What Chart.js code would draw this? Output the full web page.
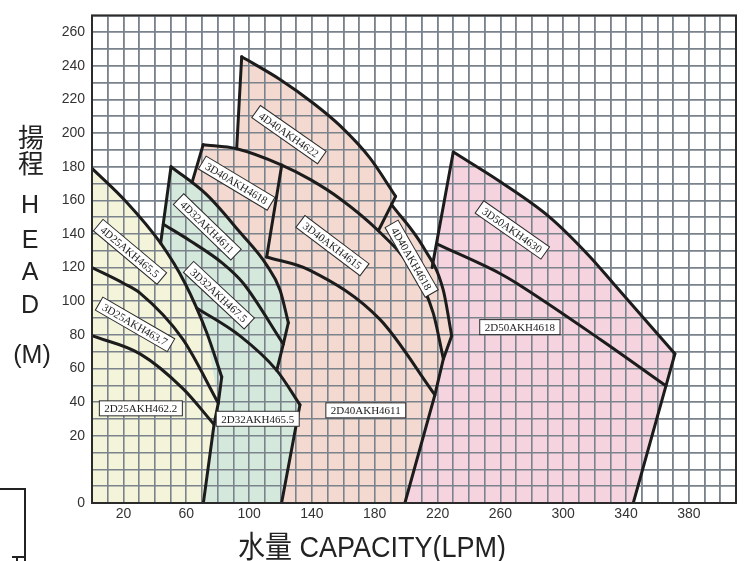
<!DOCTYPE html>
<html><head><meta charset="utf-8">
<script src="https://cdn.jsdelivr.net/npm/chart.js@4.4.1/dist/chart.umd.min.js"></script>
<style>html,body{margin:0;padding:0;background:#fff;}#wrap{position:relative;width:744px;height:561px;}</style>
</head><body><div id="wrap"><canvas id="c" width="744" height="561"></canvas></div>
<script>
// ---------- axis definition ----------
const X_MIN = 0, X_MAX = 410, X_GRID_STEP = 10;
const Y_BREAK = 20, Y_MAX = 270;            // below 20 m the axis is stretched x2
const xTickLabels = [20, 60, 100, 140, 180, 220, 260, 300, 340, 380];
const yTickLabels = [0, 20, 40, 60, 80, 100, 120, 140, 160, 180, 200, 220, 240, 260];
const yGridBelowBreak = [0, 5, 10, 15];

// ---------- performance curves [LPM, m] ----------
const c4D25 = [[0,179],[21.6,159.3],[43.7,134.5],[59.2,110.7],[73,81.4],[82.6,55]];
const c3D25 = [[0,120],[20,110.7],[30.6,104.8],[57.9,77.3],[80.4,39.4]];
const c2D25 = [[0,79.5],[30.6,68.7],[57.9,48],[77.7,26.7]];
const c4D32 = [[50.3,180],[73,163.4],[94.2,141],[111.2,121.5],[119.7,106.7],[125,87.2]];
const c3D32 = [[45.4,145.8],[62.4,136],[83.4,122.4],[96.3,110.7],[121.8,74.5]];
const c2D32 = [[66.6,96],[94.2,79.4],[117.6,58.9],[132.4,38.4]];
const c4D40_22 = [[95.3,245.4],[119.7,231.9],[140.7,217.9],[157.9,204.4],[177,185.1],[193.3,162.4]];
const c3D40 = [[70.8,193.1],[92.1,190.7],[120.8,181],[138.8,172.5],[157.9,161],[182.3,141.9],[204.3,118.3],[217.2,93.1],[223.7,65.7]];
const c4D40_18 = [[190.7,157.5],[210.9,132.2],[223.6,106.7],[229,79.4]];
const c2D40 = [[111.2,126.3],[138.8,118.4],[183.3,89.2],[218.3,44.3]];
const c3D50 = [[230,188.7],[259.7,171.2],[291.5,149.9],[317,126.5],[331.8,110.7],[371.1,68.7]];
const c2D50 = [[219.4,134.1],[259.7,116.5],[270.3,110.7],[323.4,77.4],[365.4,49.7]];

const last = a => a[a.length - 1];
// ---------- operating-range boundaries ----------
const bYellowRight = [last(c4D25), last(c3D25), last(c2D25), [70.9, 0]];
const bGreenLeft   = [c4D32[0], c4D25[2]];
const bGreenRight  = [last(c4D32), last(c3D32), c2D32[2]];
const b2D32Right   = [last(c2D32), [120.7, 0]];
const b3D40Left    = [c3D40[0], [63.8, 171]];
const b4622Left    = [c4D40_22[0], c3D40[1]];
const b4622Right   = [last(c4D40_22), c4D40_18[0], c3D40[5]];
const b3D40Mid     = [c3D40[2], c2D40[0]];
const b40Right     = [last(c4D40_18), last(c3D40), last(c2D40), [199.2, 0]];
const bPinkLeft    = [c3D50[0], [216.5, 120]];
const bPinkRight   = [last(c3D50), last(c2D50), [344.6, 0]];

// ---------- model labels ----------
const modelNames = ['4D25AKH465.5','3D25AKH463.7','2D25AKH462.2','4D32AKH4611','3D32AKH467.5','2D32AKH465.5',
  '4D40AKH4622','3D40AKH4618','3D40AKH4615','4D40AKH4618','2D40AKH4611','3D50AKH4630','2D50AKH4618'];
const modelLabelQ = [24.2, 27.4, 31.1, 73.4, 80.8, 105.5, 125.4, 92.1, 153.1, 203.5, 174.3, 267.6, 272.4];
const modelLabelH = [129.4, 86.2, 36.3, 144.2, 103.6, 30.1, 199.1, 170.2, 133.1, 125.3, 35.1, 142.4, 84.6];
const modelLabelAngle = [40, 30, 0, 44, 43, 0, 35, 31, 37, 60, 0, 35, 0];

// ---------- fill regions built from curves/boundaries ----------
const polyPink = [...c3D50, ...bPinkRight.slice(1), b40Right[3], b40Right[2], b40Right[1], b40Right[0], c4D40_18[2], bPinkLeft[1]];
const polyOrange = [c3D40[0], c3D40[1], ...c4D40_22, b4622Right[1], ...c4D40_18.slice(1), ...b40Right.slice(1),
  b2D32Right[1], b2D32Right[0], ...[...bGreenRight].reverse(), c4D32[4], c4D32[3], c4D32[2], c4D32[1], b3D40Left[1]];
const polyYellow = [[X_MIN, 0], ...c4D25, ...bYellowRight.slice(1)];
const polyGreen = [...c4D32, bGreenRight[1], bGreenRight[2], c2D32[3], b2D32Right[1], ...[...bYellowRight].reverse().slice(0,3), c4D25[4], c4D25[3], c4D25[2]];

// ---------- custom scale: linear with stretched segment below 20 m ----------
class BrokenLinearScale extends Chart.LinearScale {
  getPixelForValue(v) {
    if (v === null || v === undefined) return NaN;
    return super.getPixelForValue(v < Y_BREAK ? 2 * v - Y_BREAK : v);
  }
  getValueForPixel(p) {
    const d = super.getValueForPixel(p);
    return d < Y_BREAK ? (d + Y_BREAK) / 2 : d;
  }
}
BrokenLinearScale.id = 'brokenLinear';
BrokenLinearScale.defaults = Chart.LinearScale.defaults;
Chart.register(BrokenLinearScale);

const GRID = '#7a828c';
const LINE = '#1c1c1c';
const fillDs = (data, color) => ({ data, isFill: true, showLine: true, fill: 'shape', backgroundColor: color,
  borderColor: 'rgba(0,0,0,0)', borderWidth: 0, pointRadius: 0, tension: 0, order: 10 });
const curveDs = data => ({ data, showLine: true, fill: false, borderColor: LINE, borderWidth: 3, pointRadius: 0,
  cubicInterpolationMode: 'monotone', borderCapStyle: 'round', borderJoinStyle: 'round', order: 0 });
const edgeDs = data => ({ data, showLine: true, fill: false, borderColor: LINE, borderWidth: 3, pointRadius: 0,
  tension: 0, borderCapStyle: 'round', borderJoinStyle: 'round', order: 0 });

const datasets = [
  ...[c4D25, c3D25, c2D25, c4D32, c3D32, c2D32, c4D40_22, c3D40, c4D40_18, c2D40, c3D50, c2D50].map(curveDs),
  ...[bYellowRight, bGreenLeft, bGreenRight, b2D32Right, b3D40Left, b4622Left, b4622Right, b3D40Mid, b40Right, bPinkLeft, bPinkRight].map(edgeDs),
  fillDs(polyGreen, '#d5e8dc'),
  fillDs(polyYellow, '#f4f4db'),
  fillDs(polyOrange, '#f3d9cf'),
  fillDs(polyPink, '#f5d4df')
];

const xGrid = []; for (let v = X_MIN; v <= X_MAX; v += X_GRID_STEP) xGrid.push(v);
const yGrid = [...yGridBelowBreak]; for (let v = Y_BREAK; v <= Y_MAX; v += 10) yGrid.push(v);

const gridOver = {
  id: 'gridOver',
  beforeDatasetsDraw(chart) { chart.$gridDone = false; },
  beforeDatasetDraw(chart, args) {
    if (chart.$gridDone || chart.data.datasets[args.index].isFill) return;
    const ctx = chart.ctx;
    ctx.save();
    chart.scales.x.drawGrid(chart.chartArea);
    chart.scales.y.drawGrid(chart.chartArea);
    ctx.restore();
    chart.$gridDone = true;
  }
};

const labelPlugin = {
  id: 'modelLabels',
  afterDatasetsDraw(chart) {
    const ctx = chart.ctx, xs = chart.scales.x, ys = chart.scales.y;
    ctx.save();
    ctx.font = "11px 'Liberation Serif', 'Times New Roman', serif";
    modelNames.forEach((name, i) => {
      const px = xs.getPixelForValue(modelLabelQ[i]), py = ys.getPixelForValue(modelLabelH[i]);
      ctx.save();
      ctx.translate(px, py);
      ctx.rotate(modelLabelAngle[i] * Math.PI / 180);
      const w = ctx.measureText(name).width + 10, h = 15;
      ctx.fillStyle = '#fff';
      ctx.fillRect(-w / 2, -h / 2, w, h);
      ctx.lineWidth = 1;
      ctx.strokeStyle = '#2a2a2a';
      ctx.strokeRect(-w / 2, -h / 2, w, h);
      ctx.fillStyle = '#222';
      ctx.textAlign = 'center';
      ctx.textBaseline = 'middle';
      ctx.fillText(name, 0, 1);
      ctx.restore();
    });
    ctx.restore();
  }
};

const decorPlugin = {
  id: 'decor',
  afterDraw(chart) {
    const ctx = chart.ctx, ca = chart.chartArea;
    ctx.save();
    ctx.strokeStyle = '#2b2b2b';
    ctx.lineWidth = 2;
    ctx.strokeRect(ca.left, ca.top, ca.right - ca.left, ca.bottom - ca.top);
    // y title
    ctx.fillStyle = '#222';
    ctx.textAlign = 'center';
    ctx.textBaseline = 'middle';
    ctx.font = "26px 'Noto Sans CJK TC', 'Noto Sans CJK SC', sans-serif";
    ctx.fillText('揚', 31, 137);
    ctx.fillText('程', 31, 163);
    ctx.textBaseline = 'alphabetic';
    ctx.font = "25px 'Liberation Sans', Arial, sans-serif";
    ctx.fillText('H', 30, 213);
    ctx.fillText('E', 30, 248);
    ctx.fillText('A', 30, 280);
    ctx.fillText('D', 30, 313);
    ctx.fillText('(M)', 32, 363);
    // x title
    ctx.save();
    ctx.translate(372, 557);
    ctx.scale(0.9, 1);
    ctx.font = "30px 'Liberation Sans', 'Noto Sans CJK TC', sans-serif";
    ctx.fillText('水量 CAPACITY(LPM)', 0, 0);
    ctx.restore();
    // cropped frame fragment at lower-left
    ctx.strokeStyle = '#222';
    ctx.lineWidth = 2;
    ctx.beginPath();
    ctx.moveTo(0, 489); ctx.lineTo(25, 489); ctx.lineTo(25, 561);
    ctx.moveTo(12, 557); ctx.lineTo(25, 557);
    ctx.moveTo(17, 557); ctx.lineTo(17, 561);
    ctx.stroke();
    ctx.restore();
  }
};

Chart.defaults.font.family = "'Liberation Sans', Arial, sans-serif";

new Chart(document.getElementById('c'), {
  type: 'scatter',
  data: { datasets },
  options: {
    responsive: false,
    animation: false,
    events: [],
    layout: { padding: { top: 8, right: 8, left: 0, bottom: 0 } },
    plugins: { legend: { display: false }, tooltip: { enabled: false } },
    scales: {
      x: {
        type: 'linear', min: X_MIN, max: X_MAX,
        afterBuildTicks: s => { s.ticks = xGrid.map(v => ({ value: v })); },
        afterFit: s => { s.height = 58; },
        ticks: { autoSkip: false, maxRotation: 0, padding: 3, color: '#333', font: { size: 14 },
          callback: v => xTickLabels.includes(v) ? String(v) : '' },
        grid: { color: GRID, lineWidth: 1.6, drawTicks: false },
        border: { display: false }
      },
      y: {
        type: 'brokenLinear', min: -Y_BREAK, max: Y_MAX,
        afterBuildTicks: s => { s.ticks = yGrid.map(v => ({ value: v })); },
        afterFit: s => { s.width = 92; },
        ticks: { autoSkip: false, padding: 7, color: '#333', font: { size: 14 },
          callback: v => yTickLabels.includes(v) ? String(v) : '' },
        grid: { color: GRID, lineWidth: 1.6, drawTicks: false },
        border: { display: false }
      }
    }
  },
  plugins: [gridOver, labelPlugin, decorPlugin]
});
</script></body></html>
